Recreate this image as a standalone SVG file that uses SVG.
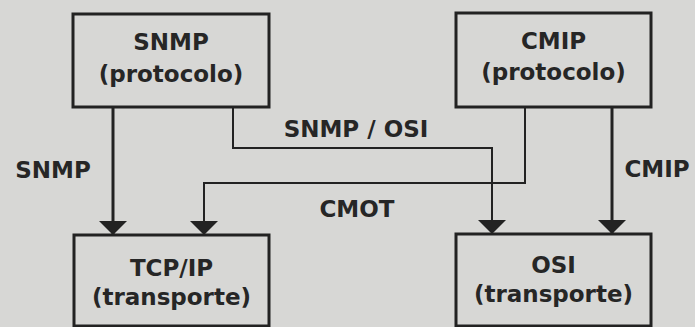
<svg xmlns="http://www.w3.org/2000/svg" width="695" height="327" viewBox="0 0 695 327">
<style>
.bg{fill:#d7d7d5}
.box{fill:#d7d7d5;stroke:#222;stroke-width:3}
.t{font-family:"DejaVu Sans",sans-serif;font-weight:bold;font-size:23px;fill:#262626;text-anchor:middle}
.c{fill:none;stroke:#222;stroke-width:2}
.c3{stroke-width:3}
</style>
<defs>
<marker id="ah" viewBox="0 0 14 28" refX="14" refY="14" markerWidth="14" markerHeight="28" markerUnits="userSpaceOnUse" orient="auto">
<path d="M0,0 L14,14 L0,28 Z" fill="#222"/>
</marker>
</defs>
<rect class="bg" x="0" y="0" width="695" height="327"/>
<g id="connectors">
<path class="c c3" d="M113,107 V235" marker-end="url(#ah)"/>
<path class="c" d="M233,107 V148 H492 V234" marker-end="url(#ah)"/>
<path class="c" d="M525,107 V183 H204 V235" marker-end="url(#ah)"/>
<path class="c c3" d="M612,107 V234" marker-end="url(#ah)"/>
<text class="t" x="53" y="178">SNMP</text>
<text class="t" x="356" y="137">SNMP / OSI</text>
<text class="t" x="357" y="217">CMOT</text>
<text class="t" x="657" y="177">CMIP</text>
</g>
<g id="snmp">
<rect class="box" x="73" y="14" width="196" height="93"/>
<text class="t" x="171" y="50">SNMP</text>
<text class="t" x="171" y="82">(protocolo)</text>
</g>
<g id="cmip">
<rect class="box" x="456" y="13" width="195" height="94"/>
<text class="t" x="553.5" y="49">CMIP</text>
<text class="t" x="553.5" y="80">(protocolo)</text>
</g>
<g id="tcpip">
<rect class="box" x="74" y="235" width="195" height="91"/>
<text class="t" x="171.5" y="276">TCP/IP</text>
<text class="t" x="171.5" y="305">(transporte)</text>
</g>
<g id="osi">
<rect class="box" x="456" y="234" width="195" height="92"/>
<text class="t" x="553.5" y="273">OSI</text>
<text class="t" x="553.5" y="302">(transporte)</text>
</g>
</svg>
